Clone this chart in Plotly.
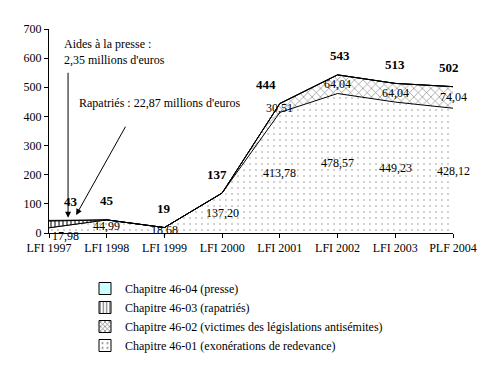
import plotly.graph_objects as go

categories = ["LFI 1997", "LFI 1998", "LFI 1999", "LFI 2000", "LFI 2001", "LFI 2002", "LFI 2003", "PLF 2004"]
ch_46_01 = [17.98, 44.99, 18.68, 137.20, 413.78, 478.57, 449.23, 428.12]
ch_46_02 = [0, 0, 0, 0, 30.51, 64.04, 64.04, 74.04]
ch_46_03 = [22.87, 0, 0, 0, 0, 0, 0, 0]
ch_46_04 = [2.35, 0, 0, 0, 0, 0, 0, 0]
y_ticks = [0, 100, 200, 300, 400, 500, 600, 700]

FONT = "Liberation Serif"
xs = list(range(len(categories)))

fig = go.Figure()
series = [
    ("Chapitre 46-01 (exonérations de redevance)", ch_46_01, dict(shape=".", fgcolor="black", bgcolor="white", size=6, solidity=0.04)),
    ("Chapitre 46-02 (victimes des législations antisémites)", ch_46_02, dict(shape="x", fgcolor="black", bgcolor="white", size=6, solidity=0.2)),
    ("Chapitre 46-03 (rapatriés)", ch_46_03, dict(shape="|", fgcolor="black", bgcolor="white", size=4, solidity=0.5)),
    ("Chapitre 46-04 (presse)", ch_46_04, None),
]
for name, vals, pat in series:
    kw = dict(fillpattern=pat) if pat else dict(fillcolor="#CCFFFF")
    fig.add_trace(go.Scatter(
        x=xs, y=vals, name=name, stackgroup="one", mode="lines", showlegend=False,
        line=dict(color="black", width=1), **kw))
# legend entries (square swatches), 46-04 first
for name, vals, pat in reversed(series):
    if pat:
        dot = pat["shape"] == "."
        mk = dict(color="white", pattern=dict(shape=pat["shape"], fgcolor="black", bgcolor="white",
                                              size=6 if dot else 4, solidity=0.15 if dot else 0.4))
    else:
        mk = dict(color="#CCFFFF")
    mk["line"] = dict(color="black", width=1)
    fig.add_trace(go.Bar(x=[None], y=[None], name=name, marker=mk, showlegend=True))

annotations = []
totals = [round(a + b + c + d) for a, b, c, d in zip(ch_46_01, ch_46_02, ch_46_03, ch_46_04)]
tot_dx = [22, 0, 0, -5, -14, 2, 0, -4]
for i, t in enumerate(totals):
    annotations.append(dict(x=i, y=t, text=f"<b>{t}</b>", showarrow=False, yshift=19, xshift=tot_dx[i],
                            font=dict(family=FONT, size=13, color="black")))

def fmt(v):
    return f"{v:.2f}".replace(".", ",")

for i, v in enumerate(ch_46_01):
    annotations.append(dict(x=i, y=v / 2, text=fmt(v), showarrow=False, xshift=16 if i == 0 else 0,
                            yshift=-6 if i == 0 else 0,
                            font=dict(family=FONT, size=12, color="black")))
for i, v in enumerate(ch_46_02):
    if v > 0:
        annotations.append(dict(x=i, y=ch_46_01[i] + v / 2, text=fmt(v), showarrow=False,
                                font=dict(family=FONT, size=12, color="black")))

annotations.append(dict(x=0, y=700, xref="x", yref="y", xanchor="left", yanchor="top", xshift=13, yshift=-6,
                        text="Aides à la presse :<br>2,35 millions d'euros", align="left", showarrow=False,
                        font=dict(family=FONT, size=12, color="black")))
annotations.append(dict(x=0.33, y=52, ax=0.33, ay=555, axref="x", ayref="y", text="", showarrow=True,
                        arrowhead=2, arrowsize=1.2, arrowwidth=1, arrowcolor="black"))
annotations.append(dict(x=0.49, y=445, xref="x", yref="y", xanchor="left", yanchor="middle",
                        text="Rapatriés : 22,87 millions d'euros", showarrow=False,
                        font=dict(family=FONT, size=12, color="black")))
annotations.append(dict(x=0.47, y=62, ax=1.34, ay=370, axref="x", ayref="y", text="", showarrow=True,
                        arrowhead=2, arrowsize=1.2, arrowwidth=1, arrowcolor="black"))

fig.update_layout(
    width=491, height=367,
    margin=dict(l=49, r=38, t=29, b=134, autoexpand=False),
    paper_bgcolor="white", plot_bgcolor="white",
    font=dict(family=FONT, size=12, color="black"),
    showlegend=True,
    legend=dict(x=85 / 491, y=1 - 274 / 367, xref="container", yref="container",
                xanchor="left", yanchor="top", traceorder="normal",
                font=dict(family=FONT, size=12, color="black"), bgcolor="rgba(0,0,0,0)",
                itemwidth=30, tracegroupgap=0),
    annotations=annotations,
)
fig.update_xaxes(range=[0, 7], tickvals=xs, ticktext=categories, showline=True, linecolor="black",
                 ticks="outside", ticklen=4, tickcolor="black", showgrid=False, zeroline=False,
                 tickfont=dict(family=FONT, size=12))
fig.update_yaxes(range=[0, 700], tickvals=y_ticks, showline=True, linecolor="black",
                 ticks="outside", ticklen=4, tickcolor="black", showgrid=False, zeroline=False,
                 tickfont=dict(family=FONT, size=12))

fig.write_html("out.html", config={"displayModeBar": False},
               post_script="document.body.style.margin='0';")
